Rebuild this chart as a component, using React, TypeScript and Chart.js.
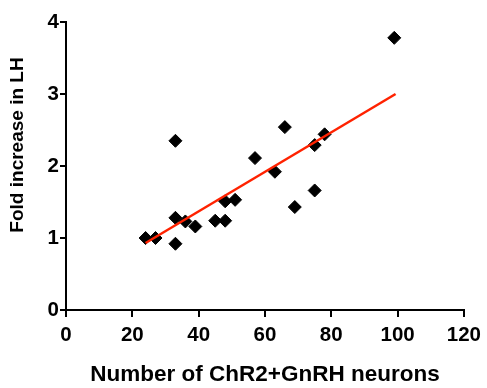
import React, { useEffect, useRef } from "react";
import { Chart, registerables } from "chart.js";

Chart.register(...registerables);

const neuronsX = [24, 27, 33, 33, 33, 36, 39, 45, 48, 48, 51, 57, 63, 66, 69, 75, 75, 78, 99];
const foldLH = [1.0, 1.0, 2.35, 1.28, 0.92, 1.23, 1.16, 1.24, 1.24, 1.51, 1.53, 2.11, 1.92, 2.54, 1.43, 2.29, 1.66, 2.44, 3.78];
const fitX = [24, 99.4];
const fitY = [0.93, 3.0];
const xTicks = [0, 20, 40, 60, 80, 100, 120];
const yTicks = [0, 1, 2, 3, 4];
const xTitle = "Number of ChR2+GnRH neurons";
const yTitle = "Fold increase in LH";

const FONT = "'Liberation Sans', Arial, sans-serif";

const yTitlePlugin = {
  id: "yTitleCustom",
  afterDraw(chart: any) {
    const ctx = chart.ctx;
    ctx.save();
    ctx.translate(18, 145);
    ctx.rotate(-Math.PI / 2);
    ctx.font = `bold 19px ${FONT}`;
    ctx.fillStyle = "#000";
    ctx.textAlign = "center";
    ctx.textBaseline = "middle";
    ctx.fillText(yTitle, 0, 0);
    ctx.restore();
  },
};

export default function App() {
  const ref = useRef<HTMLCanvasElement | null>(null);
  useEffect(() => {
    if (!ref.current) return;
    const chart = new Chart(ref.current, {
      type: "scatter",
      data: {
        datasets: [
          {
            label: "data",
            data: neuronsX.map((x, i) => ({ x, y: foldLH[i] })),
            pointStyle: "rectRot",
            pointRadius: 6.5,
            pointBackgroundColor: "#000",
            pointBorderColor: "#000",
            pointBorderWidth: 1,
            order: 2,
          },
          {
            label: "fit",
            data: fitX.map((x, i) => ({ x, y: fitY[i] })),
            showLine: true,
            borderColor: "#ff2200",
            borderWidth: 2.5,
            pointRadius: 0,
            order: 1,
          },
        ],
      },
      options: {
        animation: false,
        responsive: false,
        devicePixelRatio: 1,
        layout: { padding: { left: 0, right: 22, top: 22, bottom: 0 } },
        plugins: { legend: { display: false }, tooltip: { enabled: false } },
        scales: {
          x: {
            type: "linear",
            min: 0,
            max: 120,
            afterFit: (s: any) => { s.height = 78; },
            afterBuildTicks: (s: any) => { s.ticks = xTicks.map((v) => ({ value: v })); },
            grid: { drawOnChartArea: false, drawTicks: true, tickLength: 7, color: "#000", lineWidth: 2 },
            border: { display: true, color: "#000", width: 2 },
            ticks: { color: "#000", font: { family: FONT, size: 20.5, weight: "bold" }, padding: 6, maxRotation: 0 },
            title: { display: true, text: xTitle, color: "#000", font: { family: FONT, size: 22.5, weight: "bold" }, padding: { top: 0, bottom: 0 } },
          },
          y: {
            type: "linear",
            min: 0,
            max: 4,
            afterFit: (s: any) => { s.width = 66; },
            afterBuildTicks: (s: any) => { s.ticks = yTicks.map((v) => ({ value: v })); },
            grid: { drawOnChartArea: false, drawTicks: true, tickLength: 6, color: "#000", lineWidth: 2 },
            border: { display: true, color: "#000", width: 2 },
            ticks: { color: "#000", font: { family: FONT, size: 20.5, weight: "bold" }, padding: 1 },
          },
        },
      },
      plugins: [yTitlePlugin],
    });
    return () => chart.destroy();
  }, []);
  return (
    <div style={{ position: "fixed", left: 0, top: 0, width: 487, height: 388, background: "#fff" }}>
      <canvas ref={ref} width={487} height={388} style={{ width: 487, height: 388, display: "block" }} />
    </div>
  );
}
